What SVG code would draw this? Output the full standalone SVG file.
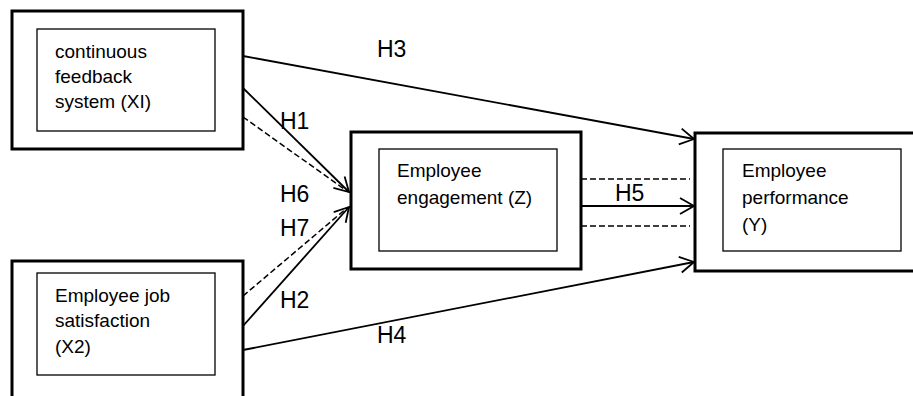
<svg xmlns="http://www.w3.org/2000/svg" width="913" height="396" viewBox="0 0 913 396">
<style>
.outer{fill:#fff;stroke:#000;stroke-width:3}
.inner{fill:#fff;stroke:#000;stroke-width:1.3}
.t{font-family:"Liberation Sans",Arial,sans-serif;font-size:19px;fill:#000}
.lbl{font-family:"Liberation Sans",Arial,sans-serif;font-size:23px;fill:#000}
.c{stroke:#000;stroke-width:1.8;fill:none}
.d{stroke:#000;stroke-width:1.5;fill:none;stroke-dasharray:6 3}
</style>
<defs>
<marker id="arr" markerUnits="userSpaceOnUse" markerWidth="18" markerHeight="20" refX="15" refY="9" orient="auto" viewBox="0 0 18 18">
<path d="M1,1 L15,9 L1,17" fill="none" stroke="#000" stroke-width="1.8"/>
</marker>
</defs>
<rect width="913" height="396" fill="#fff"/>
<g id="connectors">
<line class="c" x1="243" y1="56" x2="694" y2="139" marker-end="url(#arr)"/>
<line class="c" x1="243" y1="88" x2="349" y2="192" marker-end="url(#arr)"/>
<line class="d" x1="243" y1="117" x2="347" y2="191"/>
<line class="d" x1="243" y1="296" x2="347" y2="208"/>
<line class="c" x1="243" y1="326" x2="349" y2="207" marker-end="url(#arr)"/>
<line class="c" x1="243" y1="350" x2="694" y2="262" marker-end="url(#arr)"/>
<line class="c" x1="581" y1="206" x2="694" y2="206" marker-end="url(#arr)"/>
<line class="d" x1="581" y1="179" x2="690" y2="179"/>
<line class="d" x1="581" y1="226" x2="690" y2="226"/>
<text class="lbl" x="377" y="57">H3</text>
<text class="lbl" x="280" y="129">H1</text>
<text class="lbl" x="280" y="202">H6</text>
<text class="lbl" x="280" y="236">H7</text>
<text class="lbl" x="280" y="308">H2</text>
<text class="lbl" x="377" y="343">H4</text>
<text class="lbl" x="615" y="201">H5</text>
</g>
<g id="X1">
<rect class="outer" x="12" y="11" width="231" height="138"/>
<rect class="inner" x="37" y="29" width="178" height="102"/>
<text class="t" x="55" y="58">continuous</text>
<text class="t" x="55" y="83">feedback</text>
<text class="t" x="55" y="108">system (XI)</text>
</g>
<g id="X2">
<rect class="outer" x="12" y="261" width="231" height="145"/>
<rect class="inner" x="37" y="273" width="178" height="102"/>
<text class="t" x="55" y="302">Employee job</text>
<text class="t" x="55" y="327">satisfaction</text>
<text class="t" x="55" y="353">(X2)</text>
</g>
<g id="Z">
<rect class="outer" x="351" y="132" width="230" height="137"/>
<rect class="inner" x="379" y="149" width="178" height="102"/>
<text class="t" x="397" y="177">Employee</text>
<text class="t" x="397" y="204">engagement (Z)</text>
</g>
<g id="Y">
<rect class="outer" x="695" y="133" width="240" height="138"/>
<rect class="inner" x="723" y="149" width="178" height="102"/>
<text class="t" x="742" y="177">Employee</text>
<text class="t" x="742" y="204">performance</text>
<text class="t" x="742" y="231">(Y)</text>
</g>
</svg>
